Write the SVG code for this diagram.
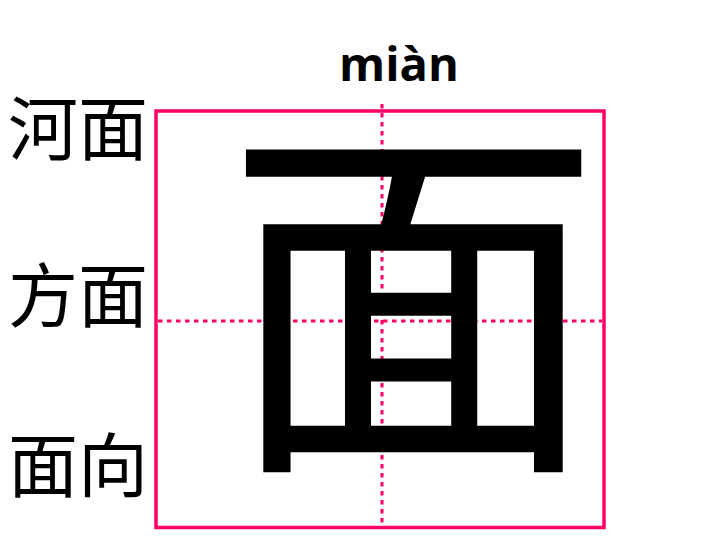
<svg xmlns="http://www.w3.org/2000/svg" width="720" height="540" viewBox="0 0 720 540">
<style>
.grid{stroke:#ff0066;fill:none}
.dot{stroke:#ff0066;stroke-width:3;stroke-dasharray:4.5 4.5;fill:none}
.cjk{font-family:"Noto Sans CJK SC","Noto Sans CJK JP",sans-serif;fill:#000}
.py{font-family:"Open Sans","Noto Sans",sans-serif;font-weight:bold;fill:#000}
</style>
<rect width="720" height="540" fill="#fff"/>
<g id="grid">
<rect class="grid" x="156" y="111" width="448" height="416.5" stroke-width="3.5"/>
<line class="dot" x1="382" y1="104" x2="382" y2="525"/>
<line class="dot" x1="158" y1="321" x2="602" y2="321"/>
</g>
<g id="pinyin"><text class="py" x="399" y="81" font-size="47" text-anchor="middle">miàn</text></g>
<g id="big-char"><text class="cjk" x="413" y="442" font-size="378" text-anchor="middle">面</text></g>
<g id="words">
<text class="cjk" x="8" y="155" font-size="70">河面</text>
<text class="cjk" x="8" y="322" font-size="70">方面</text>
<text class="cjk" x="8" y="492" font-size="70">面向</text>
</g>
</svg>
